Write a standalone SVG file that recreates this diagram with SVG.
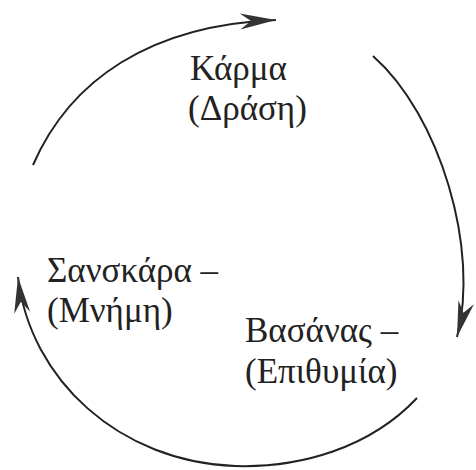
<svg xmlns="http://www.w3.org/2000/svg" width="476" height="470" viewBox="0 0 476 470">
<style>
.arc{fill:none;stroke:#222;stroke-width:2;marker-end:url(#ah)}
.t{font-family:"Liberation Serif","DejaVu Serif",serif;font-size:35px;fill:#222}
</style>
<defs>
<marker id="ah" markerUnits="userSpaceOnUse" markerWidth="42" markerHeight="22" viewBox="-38 -11 42 22" refX="0" refY="0" orient="auto">
<path d="M0,0 L-36,-8 L-25,0 L-36,8 Z" fill="#333"/>
</marker>
</defs>
<rect width="476" height="470" fill="#fff"/>
<g id="connectors">
<path class="arc" d="M33,165 C70,80 150,25 276,20"/>
<path class="arc" d="M373,56 C440,115 480,250 457,337"/>
<path class="arc" d="M417,398 C370,448 300,468 235,466 C120,462 30,380 18,277"/>
</g>
<g id="karma"><text class="t" x="190" y="80">Κάρμα</text><text class="t" x="188" y="120">(Δράση)</text></g>
<g id="sanskara"><text class="t" x="47" y="282">Σανσκάρα –</text><text class="t" x="47" y="322">(Μνήμη)</text></g>
<g id="vasanas"><text class="t" x="245" y="342">Βασάνας –</text><text class="t" x="245" y="383">(Επιθυμία)</text></g>
</svg>
